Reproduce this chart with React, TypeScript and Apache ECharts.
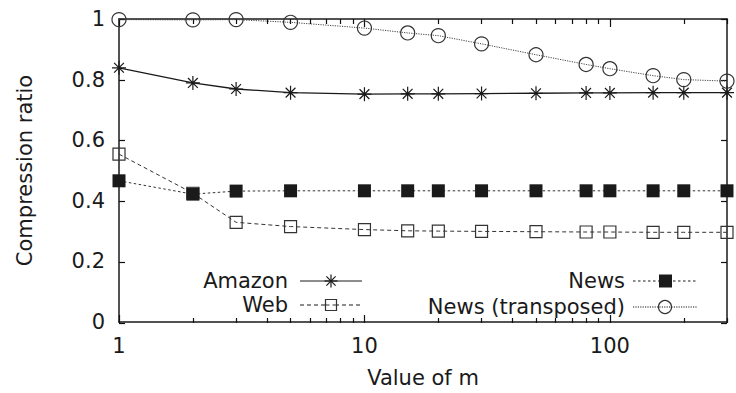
import React, { useEffect, useRef } from "react";
import * as echarts from "echarts";

const mValues = [1, 2, 3, 5, 10, 15, 20, 30, 50, 80, 100, 150, 200, 300];
const amazon = [0.839, 0.789, 0.769, 0.757, 0.752, 0.753, 0.753, 0.754, 0.755, 0.756, 0.756, 0.757, 0.757, 0.757];
const web = [0.554, 0.425, 0.329, 0.315, 0.305, 0.301, 0.3, 0.299, 0.298, 0.297, 0.297, 0.296, 0.296, 0.296];
const news = [0.466, 0.422, 0.432, 0.433, 0.433, 0.433, 0.433, 0.433, 0.433, 0.433, 0.433, 0.433, 0.433, 0.433];
const newsT = [0.998, 0.997, 0.998, 0.989, 0.97, 0.954, 0.945, 0.918, 0.882, 0.85, 0.836, 0.813, 0.8, 0.795];

const xMajor = [1, 10, 100];
const xMinor = [2, 3, 4, 5, 6, 7, 8, 9, 20, 30, 40, 50, 60, 70, 80, 90, 200, 300];

const FONT = '"DejaVu Sans", sans-serif';
const FS = 21;
const INK = "#1a1a1a";
const STAR = "path://M0,5 L10,5 M5,0 L5,10 M1.5,1.5 L8.5,8.5 M8.5,1.5 L1.5,8.5";

const pairs = (ys: number[]) => mValues.map((m, i) => [m, ys[i]]);

function legendRow(label: string, textX: number, lineX0: number, lineX1: number, y: number, dash: number[] | null, marker: any[]) {
  return [
    {
      type: "text",
      style: { text: label, x: textX, y, align: "right", verticalAlign: "middle", font: `${FS}px ${FONT}`, fill: INK },
    },
    {
      type: "line",
      shape: { x1: lineX0, y1: y, x2: lineX1, y2: y },
      style: { stroke: INK, lineWidth: 1, lineDash: dash || undefined },
    },
    ...marker,
  ];
}

export default function App() {
  const ref = useRef<HTMLDivElement>(null);
  useEffect(() => {
    if (!ref.current) return;
    const chart = echarts.init(ref.current, undefined, { renderer: "svg" });
    const box = { left: 119, right: 9, top: 19, bottom: 70 };
    const starMarker = (cx: number, cy: number) => {
      const r = 6.5;
      const d = 4.6;
      const st = { stroke: INK, lineWidth: 1.2 };
      return [
        { type: "line", shape: { x1: cx - r, y1: cy, x2: cx + r, y2: cy }, style: st },
        { type: "line", shape: { x1: cx, y1: cy - r, x2: cx, y2: cy + r }, style: st },
        { type: "line", shape: { x1: cx - d, y1: cy - d, x2: cx + d, y2: cy + d }, style: st },
        { type: "line", shape: { x1: cx + d, y1: cy - d, x2: cx - d, y2: cy + d }, style: st },
      ];
    };
    // axes carrying only tick marks, in a second grid with the same box
    const xTicks = (position: string, values: number[], length: number) => ({
      type: "log",
      logBase: 10,
      min: 1,
      max: 300,
      gridIndex: 1,
      position,
      axisLine: { show: false, onZero: false },
      axisTick: { show: true, inside: true, interval: 0, length, customValues: values, lineStyle: { color: "#111", width: 1.2 } },
      axisLabel: { show: false },
      splitLine: { show: false },
    });
    const yTicks = (position: string) => ({
      type: "value",
      min: 0,
      max: 1,
      interval: 0.2,
      gridIndex: 1,
      position,
      axisLine: { show: false, onZero: false },
      axisTick: { show: true, inside: true, length: 6, lineStyle: { color: "#111", width: 1.2 } },
      axisLabel: { show: false },
      splitLine: { show: false },
    });
    const option: any = {
      animation: false,
      grid: [box, { ...box }],
      xAxis: [
        {
          type: "log",
          logBase: 10,
          min: 1,
          max: 300,
          gridIndex: 0,
          position: "bottom",
          name: "Value of m",
          nameLocation: "middle",
          nameGap: 45,
          nameTextStyle: { fontFamily: FONT, fontSize: FS, color: INK },
          axisLine: { show: true, onZero: false, lineStyle: { color: INK, width: 1.5 } },
          axisTick: { show: false },
          axisLabel: { show: true, interval: 0, customValues: xMajor, margin: 13, fontFamily: FONT, fontSize: FS, color: INK },
          splitLine: { show: false },
        },
        {
          type: "log",
          logBase: 10,
          min: 1,
          max: 300,
          gridIndex: 0,
          position: "top",
          axisLine: { show: true, onZero: false, lineStyle: { color: INK, width: 1.5 } },
          axisTick: { show: false },
          axisLabel: { show: false },
          splitLine: { show: false },
        },
        xTicks("bottom", xMajor, 8),
        xTicks("top", xMajor, 8),
        xTicks("bottom", xMinor, 5),
        xTicks("top", xMinor, 5),
      ],
      yAxis: [
        {
          type: "value",
          min: 0,
          max: 1,
          interval: 0.2,
          gridIndex: 0,
          position: "left",
          name: "Compression ratio",
          nameLocation: "middle",
          nameGap: 84,
          nameTextStyle: { fontFamily: FONT, fontSize: FS, color: INK },
          axisLine: { show: true, onZero: false, lineStyle: { color: INK, width: 1.5 } },
          axisTick: { show: false },
          axisLabel: { margin: 14, fontFamily: FONT, fontSize: FS, color: INK },
          splitLine: { show: false },
        },
        {
          type: "value",
          min: 0,
          max: 1,
          interval: 0.2,
          gridIndex: 0,
          position: "right",
          axisLine: { show: true, onZero: false, lineStyle: { color: INK, width: 1.5 } },
          axisTick: { show: false },
          axisLabel: { show: false },
          splitLine: { show: false },
        },
        yTicks("left"),
        yTicks("right"),
      ],
      series: [
        {
          name: "Amazon",
          type: "line",
          xAxisIndex: 0,
          yAxisIndex: 0,
          data: pairs(amazon),
          symbol: STAR,
          symbolSize: 14,
          lineStyle: { color: INK, width: 1.3, type: "solid" },
          itemStyle: { color: INK, borderColor: INK, borderWidth: 1.2 },
        },
        {
          name: "Web",
          type: "line",
          xAxisIndex: 0,
          yAxisIndex: 0,
          data: pairs(web),
          symbol: "rect",
          symbolSize: 12,
          lineStyle: { color: "#333", width: 1, type: [4, 3] },
          itemStyle: { color: "rgba(0,0,0,0)", borderColor: "#333", borderWidth: 1.2 },
        },
        {
          name: "News",
          type: "line",
          xAxisIndex: 0,
          yAxisIndex: 0,
          data: pairs(news),
          symbol: "rect",
          symbolSize: 13,
          lineStyle: { color: "#333", width: 1, type: [2.5, 2.5] },
          itemStyle: { color: "#1a1a1a", borderColor: "#1a1a1a", borderWidth: 0 },
        },
        {
          name: "News (transposed)",
          type: "line",
          xAxisIndex: 0,
          yAxisIndex: 0,
          data: pairs(newsT),
          symbol: "circle",
          symbolSize: 14,
          lineStyle: { color: "#444", width: 1, type: [1.2, 1.2] },
          itemStyle: { color: "rgba(0,0,0,0)", borderColor: "#333", borderWidth: 1.2 },
        },
      ],
      graphic: [
        ...legendRow("Amazon", 288, 300, 362, 281, null, starMarker(331, 281)),
        ...legendRow("Web", 288, 300, 362, 305, [4, 3], [
          { type: "rect", shape: { x: 325.5, y: 299.5, width: 11, height: 11 }, style: { fill: "#fff", stroke: "#333", lineWidth: 1.2 } },
          { type: "line", shape: { x1: 325.5, y1: 305, x2: 336.5, y2: 305 }, style: { stroke: "#333", lineWidth: 1, lineDash: [4, 3] } },
        ]),
        ...legendRow("News", 625, 633, 697, 281, [2.5, 2.5], [
          { type: "rect", shape: { x: 659, y: 274.5, width: 13, height: 13 }, style: { fill: "#1a1a1a" } },
        ]),
        ...legendRow("News (transposed)", 625, 633, 697, 307, [1.2, 1.2], [
          { type: "circle", shape: { cx: 665, cy: 307, r: 6.5 }, style: { fill: "rgba(0,0,0,0)", stroke: "#333", lineWidth: 1.2 } },
        ]),
      ],
    };
    chart.setOption(option);
    return () => chart.dispose();
  }, []);
  return (
    <div
      ref={ref}
      style={{ position: "absolute", left: 0, top: 0, width: 736, height: 393, background: "#fff" }}
    />
  );
}
